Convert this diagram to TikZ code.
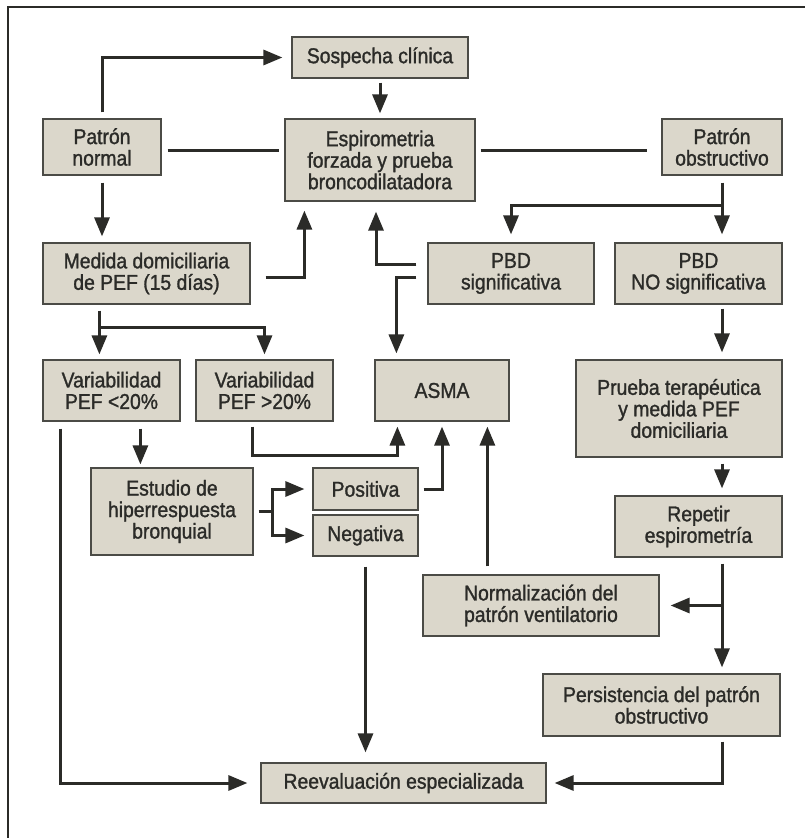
\documentclass[tikz,border=0pt]{standalone}
\usepackage{fontspec}
\setmainfont{Liberation Sans}[FakeBold=1.3, FakeStretch=0.9]
\usetikzlibrary{arrows.meta,calc}
\definecolor{boxfill}{RGB}{219,215,203}
\definecolor{ink}{RGB}{43,43,40}
\definecolor{boxline}{RGB}{75,75,70}
\begin{document}
\begin{tikzpicture}[x=1pt,y=-1pt,
  bx/.style={draw=boxline, line width=1.2pt, fill=boxfill, text=ink, align=center, inner sep=0pt,
     font=\fontsize{21.5}{21.5}\selectfont},
  wh/.style 2 args={minimum width=#1pt, minimum height=#2pt},
  ln/.style={draw=ink, line width=3pt},
  arr/.style={ln, -{Triangle[length=19pt,width=15pt]}}]
\fill[white] (0,0) rectangle (805,838);
\useasboundingbox (0,0) rectangle (805,838);
\draw[ink, line width=1.2pt] (8,838) -- (8,7) -- (805,7);

\node[bx, wh={176}{41}] (sosp) at (380,57.5) {Sospecha clínica};
\node[bx, wh={118}{56}] (pnorm) at (102,147) {Patrón\\normal};
\node[bx, wh={190}{82}] (espiro) at (380,160) {Espirometria\\forzada y prueba\\broncodilatadora};
\node[bx, wh={120}{56}] (pobs) at (722,147) {Patrón\\obstructivo};
\node[bx, wh={207}{61}] (medida) at (146.5,273.5) {Medida domiciliaria\\de PEF (15 días)};
\node[bx, wh={166}{61}] (pbds) at (511,273.5) {PBD\\significativa};
\node[bx, wh={167}{61}] (pbdno) at (698.5,273.5) {PBD\\NO significativa};
\node[bx, wh={137}{61}] (var1) at (111.5,390.5) {Variabilidad\\PEF <20\%};
\node[bx, wh={137}{61}] (var2) at (264.5,390.5) {Variabilidad\\PEF >20\%};
\node[bx, wh={134}{61}] (asma) at (442,390.5) {ASMA};
\node[bx, wh={206}{97}] (prueba) at (679,408.5) {Prueba terapéutica\\y medida PEF\\domiciliaria};
\node[bx, wh={162}{87}] (estudio) at (172,511.5) {Estudio de\\hiperrespuesta\\bronquial};
\node[bx, wh={105}{42}] (pos) at (365.5,489) {Positiva};
\node[bx, wh={105}{41}] (neg) at (365.5,535.5) {Negativa};
\node[bx, wh={167}{61}] (repetir) at (698.5,526.5) {Repetir\\espirometría};
\node[bx, wh={236}{61}] (normal) at (541,605.5) {Normalización del\\patrón ventilatorio};
\node[bx, wh={237}{62}] (persist) at (661.5,705) {Persistencia del patrón\\obstructivo};
\node[bx, wh={285}{40}] (reeval) at (403.5,783) {Reevaluación especializada};

% connectors
\draw[arr, shorten <=6pt, shorten >=9pt] (pnorm.north) |- (sosp.west);
\draw[arr, shorten <=4pt, shorten >=5pt] (sosp.south) -- (espiro.north);
\draw[ln, shorten <=6pt, shorten >=5pt] ($(pnorm.east)+(0,3)$) -- ($(espiro.west)+(0,-10)$);
\draw[ln, shorten <=5pt, shorten >=14pt] ($(espiro.east)+(0,-10)$) -- ($(pobs.west)+(0,3)$);

\draw[arr, shorten <=7pt, shorten >=8pt] (pobs.south) -- (pobs.south |- pbdno.north);
\coordinate (j1) at ($(pobs.south)+(0,30)$);
\draw[arr, shorten >=8pt] (j1) -| (pbds.north);

\draw[arr, shorten <=7pt, shorten >=6pt] (pnorm.south) -- (pnorm.south |- medida.north);
\draw[arr, shorten <=15pt, shorten >=9pt] ($(medida.east)+(0,3.5)$) -| ($(espiro.south west)+(20,0)$);
\draw[arr, shorten <=11pt, shorten >=10pt] ($(pbds.west)+(0,-9.5)$) -| ($(espiro.south)+(-4,0)$);
\draw[arr, shorten <=11pt, shorten >=6pt] ($(pbds.west)+(0,3.5)$) -| ($(asma.north west)+(22,0)$);

\coordinate (m1) at ($(medida.south west)+(57,0)$);
\draw[arr, shorten <=6pt, shorten >=5pt] (m1) -- (m1 |- var1.north);
\coordinate (j2) at ($(m1)+(0,23)$);
\draw[arr, shorten >=5pt] (j2) -| (var2.north);

\draw[arr, shorten <=4pt, shorten >=7pt] (pobs.south |- pbdno.south) -- (pobs.south |- prueba.north);

\draw[arr, shorten <=5pt, shorten >=5pt] ($(var2.south west)+(57,0)$) -- ++(0,34) -| ($(asma.south west)+(23,0)$);
\draw[arr, shorten <=5pt, shorten >=5pt] (pos.east) -| (asma.south);
\draw[arr, shorten <=8pt, shorten >=5pt] ($(normal.north west)+(65,0)$) -- ($(asma.south west)+(113,0)$);

\draw[arr, shorten <=7pt, shorten >=13pt] ($(var1.south west)+(18,0)$) |- (reeval.west);
\draw[arr, shorten <=7pt, shorten >=3pt] ($(var1.south west)+(98,0)$) -- ($(estudio.north west)+(50,0)$);

\coordinate (j3) at ($(estudio.east)+(19,0)$);
\draw[ln, shorten <=5pt] (estudio.east) -- (j3);
\draw[arr, shorten >=8pt] (j3) |- (pos.west);
\draw[arr, shorten >=8pt] (j3) |- (neg.west);

\draw[arr, shorten <=10pt, shorten >=10pt] (neg.south) -- (neg.south |- reeval.north);

\draw[arr, shorten <=6pt, shorten >=7pt] (pobs.south |- prueba.south) -- (pobs.south |- repetir.north);
\draw[arr, shorten <=6pt, shorten >=6pt] (pobs.south |- repetir.south) -- (pobs.south |- persist.north);
\draw[arr, shorten >=11pt] (pobs.south |- normal.east) -- (normal.east);
\draw[arr, shorten <=5pt, shorten >=8pt] (pobs.south |- persist.south) |- (reeval.east);
\end{tikzpicture}
\end{document}
